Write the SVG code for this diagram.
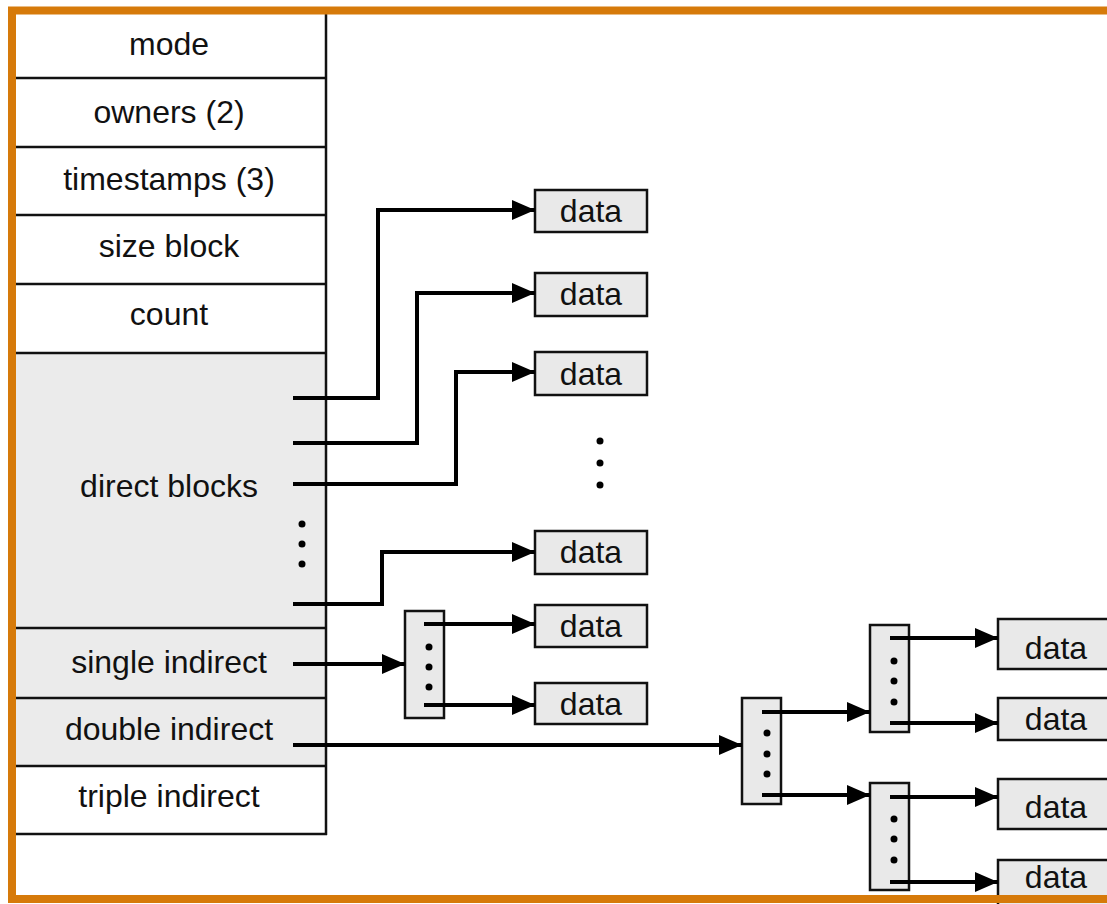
<svg xmlns="http://www.w3.org/2000/svg" width="1107" height="904" viewBox="0 0 1107 904">
<style>
.t{font-family:"Liberation Sans",Arial,Helvetica,sans-serif;font-size:32px;fill:#111;text-anchor:middle}
.cell{stroke:#111;stroke-width:2.5}
.box{fill:#e9e9e9;stroke:#111;stroke-width:2.5}
.ln{fill:none;stroke:#000;stroke-width:4}
.dot{fill:#000}
</style>
<defs>
<marker id="ah" markerUnits="userSpaceOnUse" markerWidth="24" markerHeight="20" refX="23" refY="10" orient="auto" viewBox="0 0 24 20">
<path d="M0,0 L23,10 L0,20 z" fill="#000"/>
</marker>
</defs>
<rect width="1107" height="904" fill="#fff"/>
<g id="inode">
<rect x="16" y="15" width="310" height="338" fill="#fff"/>
<rect x="16" y="353" width="310" height="413" fill="#ebebeb"/>
<rect x="16" y="766" width="310" height="68" fill="#fff"/>
<g class="cell">
<line x1="16" y1="78" x2="326" y2="78"/>
<line x1="16" y1="147" x2="326" y2="147"/>
<line x1="16" y1="215" x2="326" y2="215"/>
<line x1="16" y1="284" x2="326" y2="284"/>
<line x1="16" y1="353" x2="326" y2="353"/>
<line x1="16" y1="628" x2="326" y2="628"/>
<line x1="16" y1="698" x2="326" y2="698"/>
<line x1="16" y1="766" x2="326" y2="766"/>
<line x1="16" y1="834" x2="327" y2="834"/>
<line x1="326" y1="14" x2="326" y2="835"/>
</g>
<text class="t" x="169" y="55">mode</text>
<text class="t" x="169" y="123">owners (2)</text>
<text class="t" x="169" y="190">timestamps (3)</text>
<text class="t" x="169" y="257">size block</text>
<text class="t" x="169" y="325">count</text>
<text class="t" x="169" y="497">direct blocks</text>
<text class="t" x="169" y="673">single indirect</text>
<text class="t" x="169" y="740">double indirect</text>
<text class="t" x="169" y="807">triple indirect</text>
<circle class="dot" cx="302" cy="524" r="3.5"/>
<circle class="dot" cx="302" cy="544" r="3.5"/>
<circle class="dot" cx="302" cy="564" r="3.5"/>
</g>
<g id="data1"><rect class="box" x="535" y="190" width="112" height="42"/><text class="t" x="591" y="222">data</text></g>
<g id="data2"><rect class="box" x="535" y="273" width="112" height="43"/><text class="t" x="591" y="305">data</text></g>
<g id="data3"><rect class="box" x="535" y="352" width="112" height="43"/><text class="t" x="591" y="385">data</text></g>
<g id="dots-direct">
<circle class="dot" cx="600" cy="441" r="3.5"/>
<circle class="dot" cx="600" cy="463" r="3.5"/>
<circle class="dot" cx="600" cy="485" r="3.5"/>
</g>
<g id="data4"><rect class="box" x="535" y="531" width="112" height="43"/><text class="t" x="591" y="563">data</text></g>
<g id="data5"><rect class="box" x="535" y="605" width="112" height="42"/><text class="t" x="591" y="637">data</text></g>
<g id="data6"><rect class="box" x="535" y="683" width="112" height="41"/><text class="t" x="591" y="715">data</text></g>
<g id="index-single"><rect class="box" x="405" y="611" width="39" height="107"/>
<circle class="dot" cx="429" cy="647" r="3.5"/><circle class="dot" cx="429" cy="667" r="3.5"/><circle class="dot" cx="429" cy="687" r="3.5"/></g>
<g id="index-double"><rect class="box" x="742" y="698" width="39" height="106"/>
<circle class="dot" cx="767" cy="733" r="3.5"/><circle class="dot" cx="767" cy="754" r="3.5"/><circle class="dot" cx="767" cy="774" r="3.5"/></g>
<g id="index-double-a"><rect class="box" x="870" y="625" width="39" height="107"/>
<circle class="dot" cx="894" cy="661" r="3.5"/><circle class="dot" cx="894" cy="681" r="3.5"/><circle class="dot" cx="894" cy="702" r="3.5"/></g>
<g id="index-double-b"><rect class="box" x="870" y="783" width="39" height="107"/>
<circle class="dot" cx="894" cy="819" r="3.5"/><circle class="dot" cx="894" cy="839" r="3.5"/><circle class="dot" cx="894" cy="860" r="3.5"/></g>
<g id="data7"><rect class="box" x="998" y="619" width="120" height="50"/><text class="t" x="1056" y="659">data</text></g>
<g id="data8"><rect class="box" x="998" y="698" width="120" height="42"/><text class="t" x="1056" y="730">data</text></g>
<g id="data9"><rect class="box" x="998" y="779" width="120" height="50"/><text class="t" x="1056" y="818">data</text></g>
<g id="data10"><rect class="box" x="998" y="860" width="120" height="50"/><text class="t" x="1056" y="888">data</text></g>
<g id="connectors" class="ln" marker-end="url(#ah)">
<path class="ln" marker-end="url(#ah)" d="M293,398 H378 V210 H535"/>
<path class="ln" marker-end="url(#ah)" d="M293,443 H417 V293 H535"/>
<path class="ln" marker-end="url(#ah)" d="M293,484 H456 V372 H535"/>
<path class="ln" marker-end="url(#ah)" d="M293,604 H382 V552 H535"/>
<path class="ln" marker-end="url(#ah)" d="M293,664 H405"/>
<path class="ln" marker-end="url(#ah)" d="M424,624 H535"/>
<path class="ln" marker-end="url(#ah)" d="M424,705 H535"/>
<path class="ln" marker-end="url(#ah)" d="M293,745 H742"/>
<path class="ln" marker-end="url(#ah)" d="M762,712 H870"/>
<path class="ln" marker-end="url(#ah)" d="M762,795 H870"/>
<path class="ln" marker-end="url(#ah)" d="M890,638 H998"/>
<path class="ln" marker-end="url(#ah)" d="M890,723 H998"/>
<path class="ln" marker-end="url(#ah)" d="M890,797 H998"/>
<path class="ln" marker-end="url(#ah)" d="M890,882 H998"/>
</g>
<rect id="frame" x="12" y="10.5" width="1200" height="888.5" fill="none" stroke="#d67a0a" stroke-width="8"/>
</svg>
